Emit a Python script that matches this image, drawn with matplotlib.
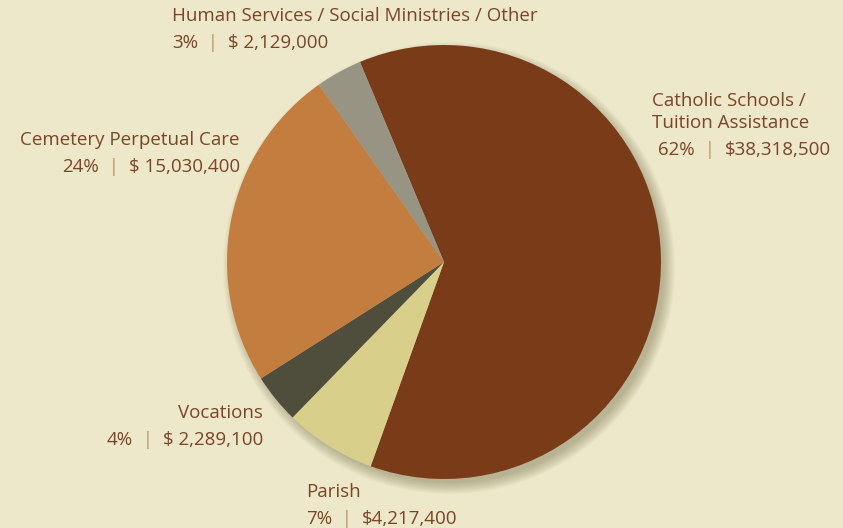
import matplotlib.pyplot as plt
from matplotlib.patches import Circle

plt.rcParams['font.family'] = ['Open Sans', 'DejaVu Sans']

categories = ['Catholic Schools /\nTuition Assistance', 'Parish', 'Vocations',
              'Cemetery Perpetual Care', 'Human Services / Social Ministries / Other']
amounts = [38318500, 4217400, 2289100, 15030400, 2129000]
pct_labels = ['62%', '7%', '4%', '24%', '3%']
amount_labels = ['$38,318,500', '$4,217,400', '$ 2,289,100', '$ 15,030,400', '$ 2,129,000']
colors = ['#7a3b19', '#d8d08a', '#4f4d3c', '#c27d3f', '#979483']

bg = '#ece8c9'
txt = '#7b4526'
sep = '#b8926e'

W, H = 843, 528
fig = plt.figure(figsize=(W / 100, H / 100), dpi=100, facecolor=bg)
ax = fig.add_axes([0, 0, 1, 1])
ax.set_facecolor(bg)

cx, cy, r = 444, H - 262, 217

# soft drop shadow, lower right
for k in range(12):
    ax.add_patch(Circle((cx + 5, cy - 6), r + 9 - k, color='#5a5030',
                        alpha=0.03, lw=0, zorder=0))

ax.pie(amounts, colors=colors, startangle=112.8, counterclock=False,
       center=(cx, cy), radius=r, wedgeprops=dict(linewidth=0))
ax.set_xlim(0, W)
ax.set_ylim(0, H)
ax.set_aspect('equal')
ax.axis('off')

fs = 13.5


def label(x, y, name, pct, amt, ha='left', indent=0):
    ax.text(x, H - y, name, ha=ha, va='baseline', fontsize=fs, color=txt,
            linespacing=1.25, multialignment=ha)
    if ha == 'left':
        t1 = ax.text(x + indent, H - y - 27, pct, ha='left', va='baseline',
                     fontsize=fs, color=txt)
        t2 = ax.annotate('  |  ', xy=(1, 0), xycoords=t1, va='bottom',
                         fontsize=fs, color=sep)
        ax.annotate(amt, xy=(1, 0), xycoords=t2, va='bottom',
                    fontsize=fs, color=txt)
    else:
        t3 = ax.text(x, H - y - 27, amt, ha='right', va='baseline',
                     fontsize=fs, color=txt)
        t2 = ax.annotate('  |  ', xy=(0, 0), xycoords=t3, ha='right',
                         va='bottom', fontsize=fs, color=sep)
        ax.annotate(pct, xy=(0, 0), xycoords=t2, ha='right', va='bottom',
                    fontsize=fs, color=txt)


label(172, 21, categories[4], pct_labels[4], amount_labels[4])
label(652, 128, categories[0], pct_labels[0], amount_labels[0], indent=6)
label(240, 145, categories[3], pct_labels[3], amount_labels[3], ha='right')
label(263, 418, categories[2], pct_labels[2], amount_labels[2], ha='right')
label(306, 497, categories[1], pct_labels[1], amount_labels[1])

fig.savefig('out.png', dpi=100, facecolor=bg)
